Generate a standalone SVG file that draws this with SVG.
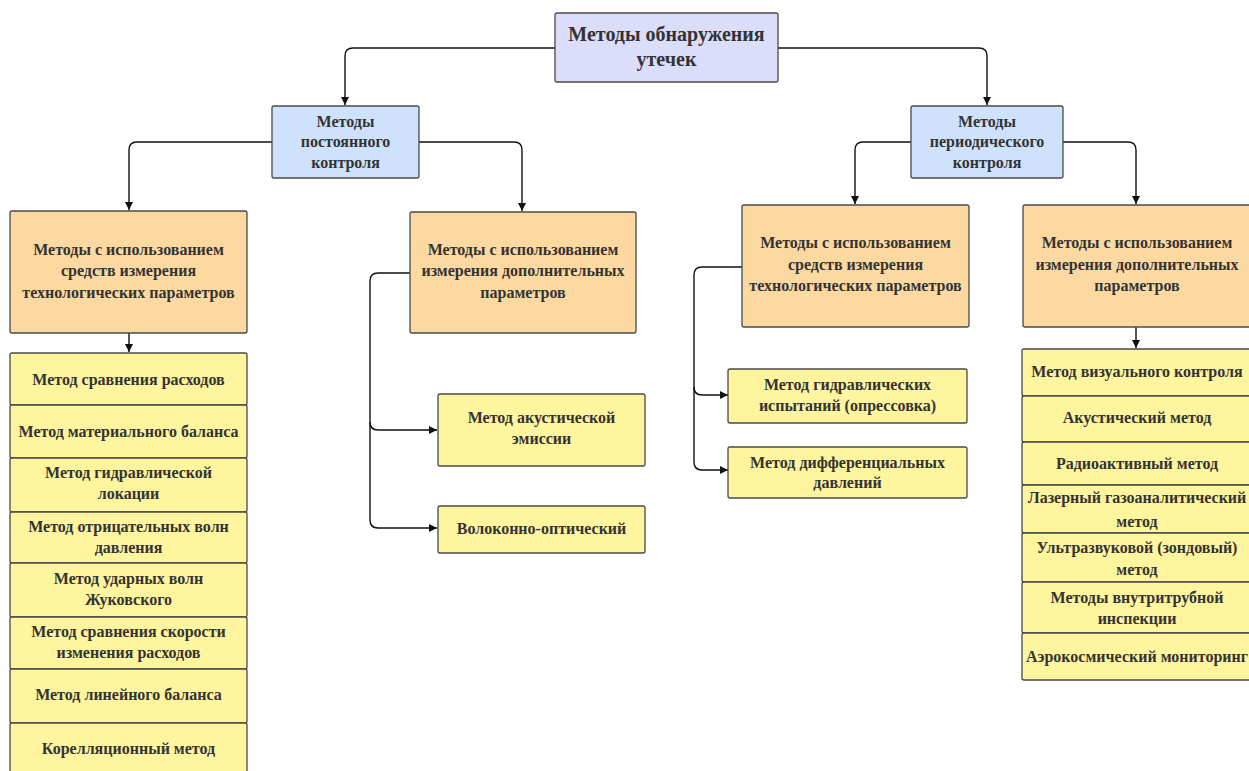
<svg xmlns="http://www.w3.org/2000/svg" width="1249" height="771" viewBox="0 0 1249 771">
<defs>
<marker id="arr" markerWidth="8" markerHeight="8" refX="8" refY="4" orient="auto" markerUnits="userSpaceOnUse">
<path d="M0,0 L8,4 L0,8 z" fill="#111"/>
</marker>
<style>
.n{stroke:#4a4a4a;stroke-width:1.3}
.root{fill:#dcdcfb}
.l2{fill:#cfe2fc}
.l3{fill:#fdd9a2}
.lf{fill:#fef59e}
text{font-family:"Liberation Serif","Times New Roman",serif;font-weight:bold;fill:#333;text-anchor:middle;font-size:16px}
.big{font-size:20px}
.c{fill:none;stroke:#111;stroke-width:1.4;marker-end:url(#arr)}
.cn{fill:none;stroke:#111;stroke-width:1.4}
</style>
</defs>
<rect width="1249" height="771" fill="#fff"/>
<g id="connectors">
<path class="c" d="M555 48 H353 Q345 48 345 56 V105"/>
<path class="c" d="M778 48 H979 Q987 48 987 56 V105"/>
<path class="c" d="M272 142 H137 Q129 142 129 150 V210"/>
<path class="c" d="M419 142 H514 Q522 142 522 150 V211"/>
<path class="c" d="M911 142 H863 Q855 142 855 150 V204"/>
<path class="c" d="M1063 142 H1128 Q1136 142 1136 150 V204"/>
<path class="c" d="M129 333 V352"/>
<path class="c" d="M1136 327 V348"/>
<path class="c" d="M410 273 H378 Q370 273 370 281 V422 Q370 430 378 430 H437"/>
<path class="c" d="M370 422 V520 Q370 528 378 528 H437"/>
<path class="c" d="M742 267 H702 Q694 267 694 275 V387 Q694 395 702 395 H728"/>
<path class="c" d="M694 387 V462 Q694 470 702 470 H728"/>
</g>
<g id="root">
<rect class="n root" x="555" y="13" width="223" height="69" rx="2"/>
<text class="big" x="666.5" y="41">Методы обнаружения</text>
<text class="big" x="666.5" y="66">утечек</text>
</g>
<g id="permanent">
<rect class="n l2" x="272" y="106" width="147" height="72" rx="2"/>
<text x="345.5" y="127">Методы</text>
<text x="345.5" y="147">постоянного</text>
<text x="345.5" y="168">контроля</text>
</g>
<g id="periodic">
<rect class="n l2" x="911" y="106" width="152" height="72" rx="2"/>
<text x="987" y="127">Методы</text>
<text x="987" y="147">периодического</text>
<text x="987" y="168">контроля</text>
</g>
<g id="perm-tech">
<rect class="n l3" x="10" y="211" width="237" height="122" rx="2"/>
<text x="128.5" y="255">Методы с использованием</text>
<text x="128.5" y="276">средств измерения</text>
<text x="128.5" y="298">технологических параметров</text>
</g>
<g id="perm-add">
<rect class="n l3" x="410" y="212" width="226" height="121" rx="2"/>
<text x="523" y="255">Методы с использованием</text>
<text x="523" y="276">измерения дополнительных</text>
<text x="523" y="298">параметров</text>
</g>
<g id="per-tech">
<rect class="n l3" x="742" y="205" width="227" height="122" rx="2"/>
<text x="855.5" y="248">Методы с использованием</text>
<text x="855.5" y="270">средств измерения</text>
<text x="855.5" y="291">технологических параметров</text>
</g>
<g id="per-add">
<rect class="n l3" x="1023" y="205" width="228" height="122" rx="2"/>
<text x="1137" y="248">Методы с использованием</text>
<text x="1137" y="270">измерения дополнительных</text>
<text x="1137" y="291">параметров</text>
</g>
<g id="left-list">
<g id="l1"><rect class="n lf" x="10" y="353" width="237" height="52" rx="2"/><text x="128.5" y="385">Метод сравнения расходов</text></g>
<g id="l2"><rect class="n lf" x="10" y="405" width="237" height="53" rx="2"/><text x="128.5" y="437">Метод материального баланса</text></g>
<g id="l3"><rect class="n lf" x="10" y="458" width="237" height="54" rx="2"/><text x="128.5" y="478">Метод гидравлической</text><text x="128.5" y="499">локации</text></g>
<g id="l4"><rect class="n lf" x="10" y="512" width="237" height="51" rx="2"/><text x="128.5" y="532">Метод отрицательных волн</text><text x="128.5" y="553">давления</text></g>
<g id="l5"><rect class="n lf" x="10" y="563" width="237" height="54" rx="2"/><text x="128.5" y="584">Метод ударных волн</text><text x="128.5" y="605">Жуковского</text></g>
<g id="l6"><rect class="n lf" x="10" y="617" width="237" height="52" rx="2"/><text x="128.5" y="637">Метод сравнения скорости</text><text x="128.5" y="658">изменения расходов</text></g>
<g id="l7"><rect class="n lf" x="10" y="669" width="237" height="54" rx="2"/><text x="128.5" y="700">Метод линейного баланса</text></g>
<g id="l8"><rect class="n lf" x="10" y="723" width="237" height="54" rx="2"/><text x="128.5" y="754">Корелляционный метод</text></g>
</g>
<g id="acoustic-emission">
<rect class="n lf" x="438" y="394" width="207" height="72" rx="2"/>
<text x="541.5" y="423">Метод акустической</text>
<text x="541.5" y="444">эмиссии</text>
</g>
<g id="fiber">
<rect class="n lf" x="438" y="506" width="207" height="47" rx="2"/>
<text x="541.5" y="534">Волоконно-оптический</text>
</g>
<g id="hydraulic-test">
<rect class="n lf" x="728" y="369" width="239" height="54" rx="2"/>
<text x="847.5" y="390">Метод гидравлических</text>
<text x="847.5" y="411">испытаний (опрессовка)</text>
</g>
<g id="diff-pressure">
<rect class="n lf" x="728" y="447" width="239" height="51" rx="2"/>
<text x="847.5" y="468">Метод дифференциальных</text>
<text x="847.5" y="488">давлений</text>
</g>
<g id="right-list">
<g id="r1"><rect class="n lf" x="1022" y="349" width="229" height="47" rx="2"/><text x="1137" y="377">Метод визуального контроля</text></g>
<g id="r2"><rect class="n lf" x="1022" y="396" width="229" height="46" rx="2"/><text x="1137" y="423">Акустический метод</text></g>
<g id="r3"><rect class="n lf" x="1022" y="442" width="229" height="43" rx="2"/><text x="1137" y="469">Радиоактивный метод</text></g>
<g id="r4"><rect class="n lf" x="1022" y="485" width="229" height="48" rx="2"/><text x="1137" y="503">Лазерный газоаналитический</text><text x="1137" y="527">метод</text></g>
<g id="r5"><rect class="n lf" x="1022" y="533" width="229" height="49" rx="2"/><text x="1137" y="553">Ультразвуковой (зондовый)</text><text x="1137" y="575">метод</text></g>
<g id="r6"><rect class="n lf" x="1022" y="582" width="229" height="51" rx="2"/><text x="1137" y="603">Методы внутритрубной</text><text x="1137" y="624">инспекции</text></g>
<g id="r7"><rect class="n lf" x="1022" y="633" width="229" height="47" rx="2"/><text x="1137" y="662">Аэрокосмический мониторинг</text></g>
</g>
</svg>
